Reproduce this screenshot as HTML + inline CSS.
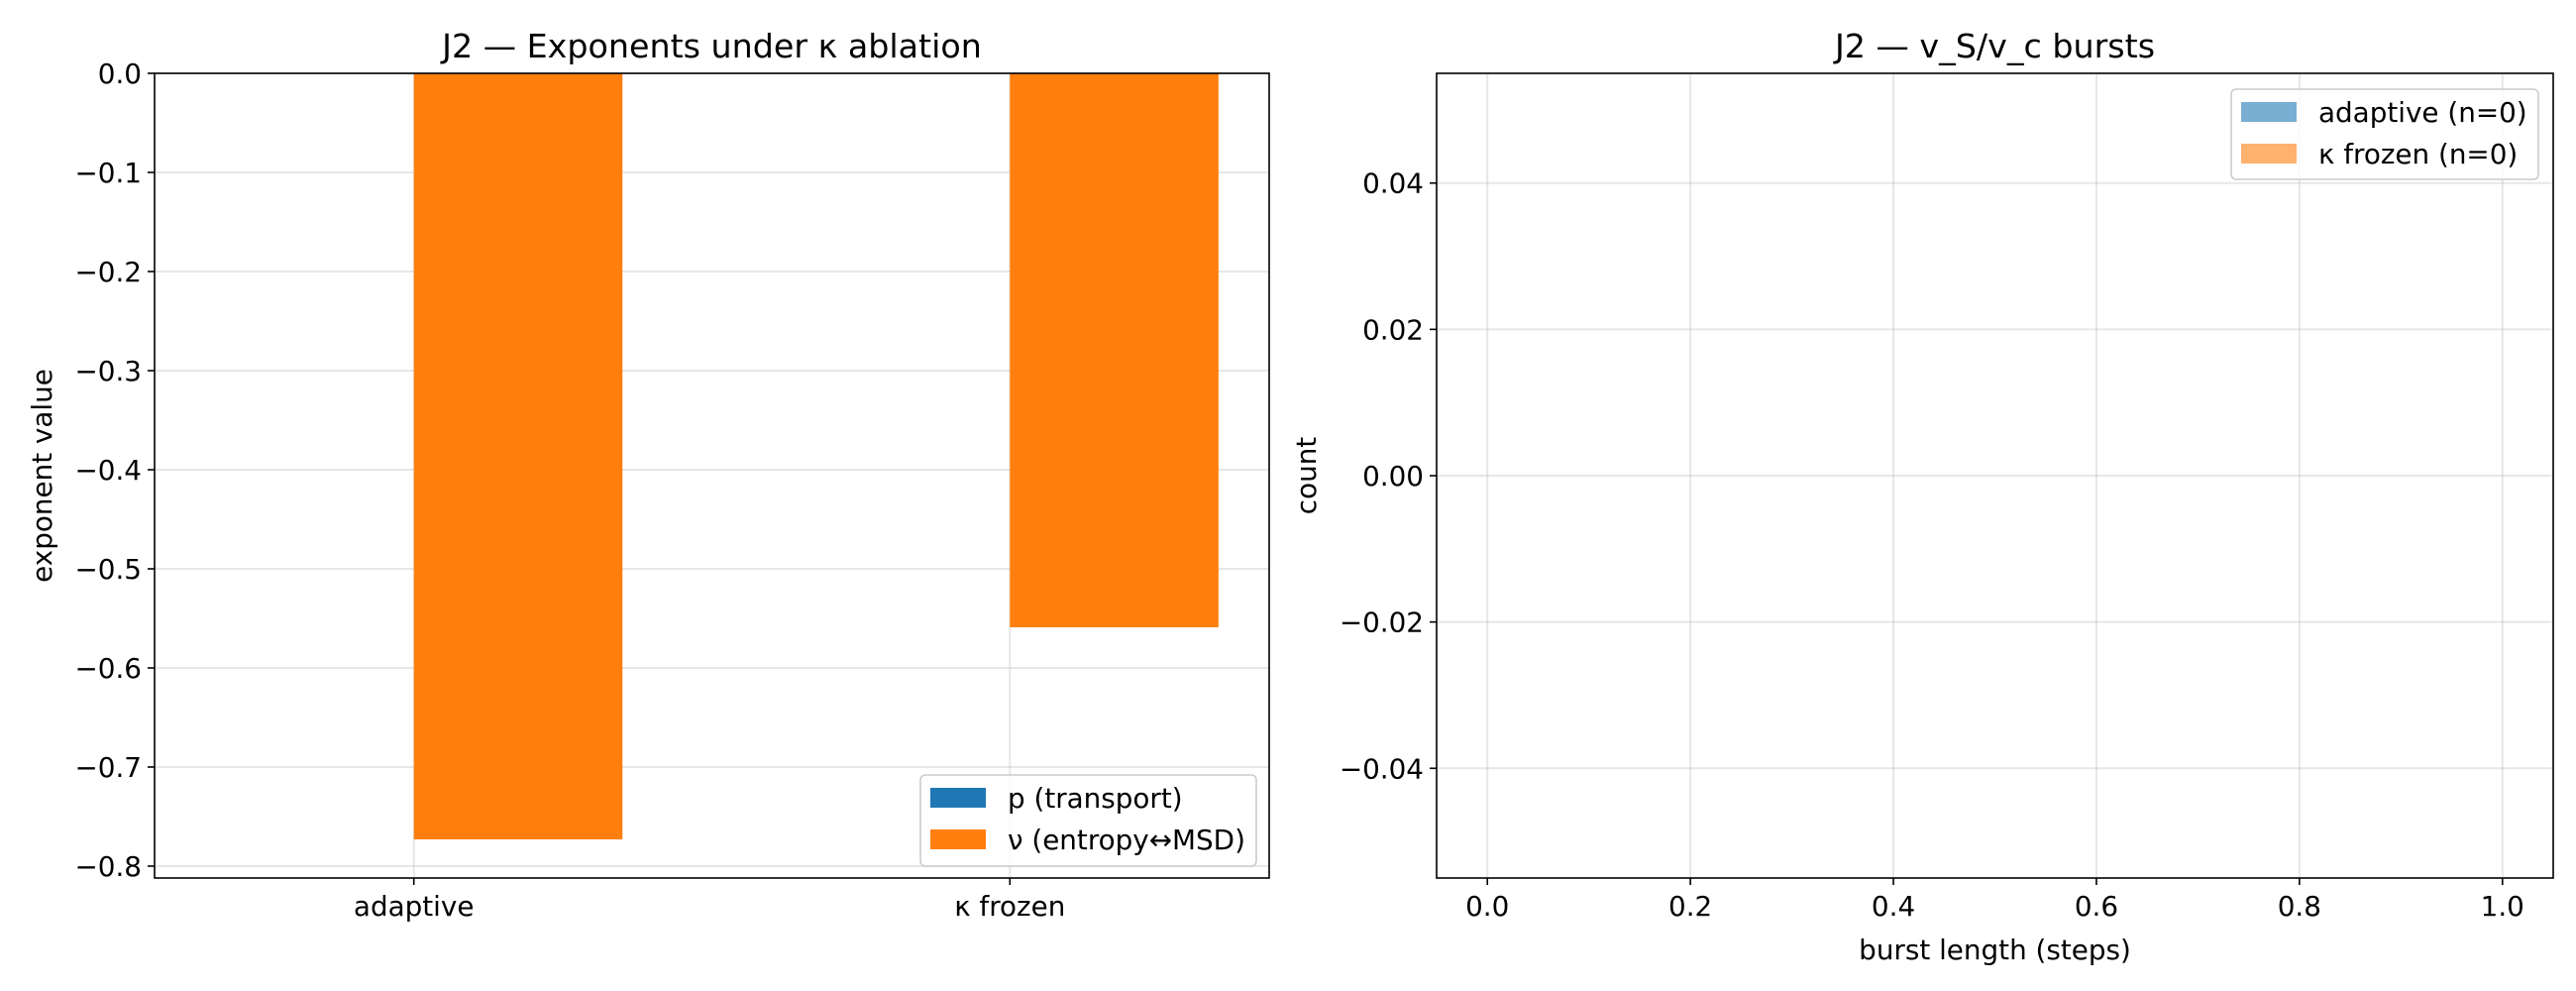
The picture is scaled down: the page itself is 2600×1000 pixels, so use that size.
<!DOCTYPE html>
<html><head><meta charset="utf-8"><style>
html,body{margin:0;padding:0;background:#fff;}
svg{display:block;font-family:"DejaVu Sans","Liberation Sans",sans-serif;}
</style></head><body>
<svg id="fig" width="2600" height="1000" viewBox="0 0 2600 1000" xmlns="http://www.w3.org/2000/svg">
<rect width="2600" height="1000" fill="#fff"/>
</svg>
<script>
const categories = ["adaptive", "κ frozen"];
const pValues = [0, 0];
const nuValues = [-0.773, -0.559];
const leftYTicks = [0.0, -0.1, -0.2, -0.3, -0.4, -0.5, -0.6, -0.7, -0.8];
const leftYTickLabels = ["0.0", "−0.1", "−0.2", "−0.3", "−0.4", "−0.5", "−0.6", "−0.7", "−0.8"];
const rightXTicks = [0.0, 0.2, 0.4, 0.6, 0.8, 1.0];
const rightXTickLabels = ["0.0", "0.2", "0.4", "0.6", "0.8", "1.0"];
const rightYTicks = [0.04, 0.02, 0.0, -0.02, -0.04];
const rightYTickLabels = ["0.04", "0.02", "0.00", "−0.02", "−0.04"];
const adaptiveBursts = [];
const frozenBursts = [];

const NS = "http://www.w3.org/2000/svg";
const svg = document.getElementById('fig');
function mk(tag, attrs, parent, text) {
  const e = document.createElementNS(NS, tag);
  for (const k in attrs) e.setAttribute(k, attrs[k]);
  if (text !== undefined) e.textContent = text;
  (parent || svg).appendChild(e);
  return e;
}
const FS = 27.8;

// LEFT AXES
const L = {x0:156, x1:1281, y0:74, y1:886, xmin:-0.435, xmax:1.435, ymin:-0.812, ymax:0};
const lx = v => L.x0 + (v - L.xmin) / (L.xmax - L.xmin) * (L.x1 - L.x0);
const ly = v => L.y0 + (L.ymax - v) / (L.ymax - L.ymin) * (L.y1 - L.y0);
const gL = mk('g', {});


leftYTicks.forEach((t, i) => {
  const y = ly(t);
  const gl = mk('line', {x1:L.x0, x2:L.x1, y1:y, y2:y, stroke:'#b0b0b0', 'stroke-opacity':0.3, 'stroke-width':2}, gL);
  
  
  mk('line', {x1:L.x0-7, x2:L.x0, y1:y, y2:y, stroke:'#000', 'stroke-width':1.6}, gL);
  const tl = mk('text', {x:L.x0-13, y:y+10, 'text-anchor':'end', 'font-size':FS}, gL, leftYTickLabels[i]);
  
  
});
categories.forEach((c, i) => {
  const x = lx(i);
  const gl = mk('line', {x1:x, x2:x, y1:L.y0, y2:L.y1, stroke:'#b0b0b0', 'stroke-opacity':0.3, 'stroke-width':2}, gL);
  
  
  mk('line', {x1:x, x2:x, y1:L.y1, y2:L.y1+7, stroke:'#000', 'stroke-width':1.6}, gL);
  const tl = mk('text', {x:x, y:L.y1+38, 'text-anchor':'middle', 'font-size':FS}, gL, c);
  
  
});
const W = 0.35;
categories.forEach((c, i) => {
  const p = pValues[i];
  const b1 = mk('rect', {x:lx(i - W), y:Math.min(ly(0), ly(p)), width:lx(i) - lx(i - W), height:Math.abs(ly(p) - ly(0)), fill:'#1f77b4'}, gL);
  
  
  const n = nuValues[i];
  const b2 = mk('rect', {x:lx(i), y:Math.min(ly(0), ly(n)), width:lx(i + W) - lx(i), height:Math.abs(ly(n) - ly(0)), fill:'#ff7f0e'}, gL);
  
  
});
mk('rect', {x:L.x0, y:L.y0, width:L.x1-L.x0, height:L.y1-L.y0, fill:'none', stroke:'#000', 'stroke-width':1.6}, gL);
const t1 = mk('text', {x:(L.x0+L.x1)/2, y:58, 'text-anchor':'middle', 'font-size':33.3}, gL, 'J2 — Exponents under κ ablation');


const yl1 = mk('text', {x:0, y:0, transform:'translate(52,'+((L.y0+L.y1)/2)+') rotate(-90)', 'text-anchor':'middle', 'font-size':FS}, gL, 'exponent value');


const lg1 = mk('g', {}, gL);


mk('rect', {x:929, y:782, width:339, height:92, rx:5, fill:'#fff', 'fill-opacity':0.8, stroke:'#ccc', 'stroke-width':1.6}, lg1);
const le1 = mk('rect', {x:939, y:795, width:56, height:20, fill:'#1f77b4'}, lg1);


mk('text', {x:1017, y:815, 'font-size':FS}, lg1, 'p (transport)');
const le2 = mk('rect', {x:939, y:837, width:56, height:20, fill:'#ff7f0e'}, lg1);


mk('text', {x:1017, y:857, 'font-size':FS}, lg1, 'ν (entropy↔MSD)');

// RIGHT AXES
const R = {x0:1450, x1:2577, y0:74, y1:886, xmin:-0.05, xmax:1.05, ymin:-0.055, ymax:0.055};
const rx = v => R.x0 + (v - R.xmin) / (R.xmax - R.xmin) * (R.x1 - R.x0);
const ry = v => R.y0 + (R.ymax - v) / (R.ymax - R.ymin) * (R.y1 - R.y0);
const gR = mk('g', {});


rightYTicks.forEach((t, i) => {
  const y = ry(t);
  const gl = mk('line', {x1:R.x0, x2:R.x1, y1:y, y2:y, stroke:'#b0b0b0', 'stroke-opacity':0.3, 'stroke-width':2}, gR);
  
  
  mk('line', {x1:R.x0-7, x2:R.x0, y1:y, y2:y, stroke:'#000', 'stroke-width':1.6}, gR);
  const tl = mk('text', {x:R.x0-13, y:y+10, 'text-anchor':'end', 'font-size':FS}, gR, rightYTickLabels[i]);
  
  
});
rightXTicks.forEach((t, i) => {
  const x = rx(t);
  const gl = mk('line', {x1:x, x2:x, y1:R.y0, y2:R.y1, stroke:'#b0b0b0', 'stroke-opacity':0.3, 'stroke-width':2}, gR);
  
  
  mk('line', {x1:x, x2:x, y1:R.y1, y2:R.y1+7, stroke:'#000', 'stroke-width':1.6}, gR);
  const tl = mk('text', {x:x, y:R.y1+38, 'text-anchor':'middle', 'font-size':FS}, gR, rightXTickLabels[i]);
  
  
});
mk('rect', {x:R.x0, y:R.y0, width:R.x1-R.x0, height:R.y1-R.y0, fill:'none', stroke:'#000', 'stroke-width':1.6}, gR);
const t2 = mk('text', {x:(R.x0+R.x1)/2, y:58, 'text-anchor':'middle', 'font-size':33.3}, gR, 'J2 — v_S/v_c bursts');


const yl2 = mk('text', {x:0, y:0, transform:'translate(1328,'+((R.y0+R.y1)/2)+') rotate(-90)', 'text-anchor':'middle', 'font-size':FS}, gR, 'count');


const xl2 = mk('text', {x:(R.x0+R.x1)/2, y:968, 'text-anchor':'middle', 'font-size':FS}, gR, 'burst length (steps)');


const lg2 = mk('g', {}, gR);


mk('rect', {x:2252, y:90, width:310, height:91, rx:5, fill:'#fff', 'fill-opacity':0.8, stroke:'#ccc', 'stroke-width':1.6}, lg2);
const le3 = mk('rect', {x:2262, y:103, width:56, height:20, fill:'#1f77b4', 'fill-opacity':0.6}, lg2);


mk('text', {x:2340, y:123, 'font-size':FS}, lg2, 'adaptive (n=' + adaptiveBursts.length + ')');
const le4 = mk('rect', {x:2262, y:145, width:56, height:20, fill:'#ff7f0e', 'fill-opacity':0.6}, lg2);


mk('text', {x:2340, y:165, 'font-size':FS}, lg2, 'κ frozen (n=' + frozenBursts.length + ')');
</script>
</body></html>
